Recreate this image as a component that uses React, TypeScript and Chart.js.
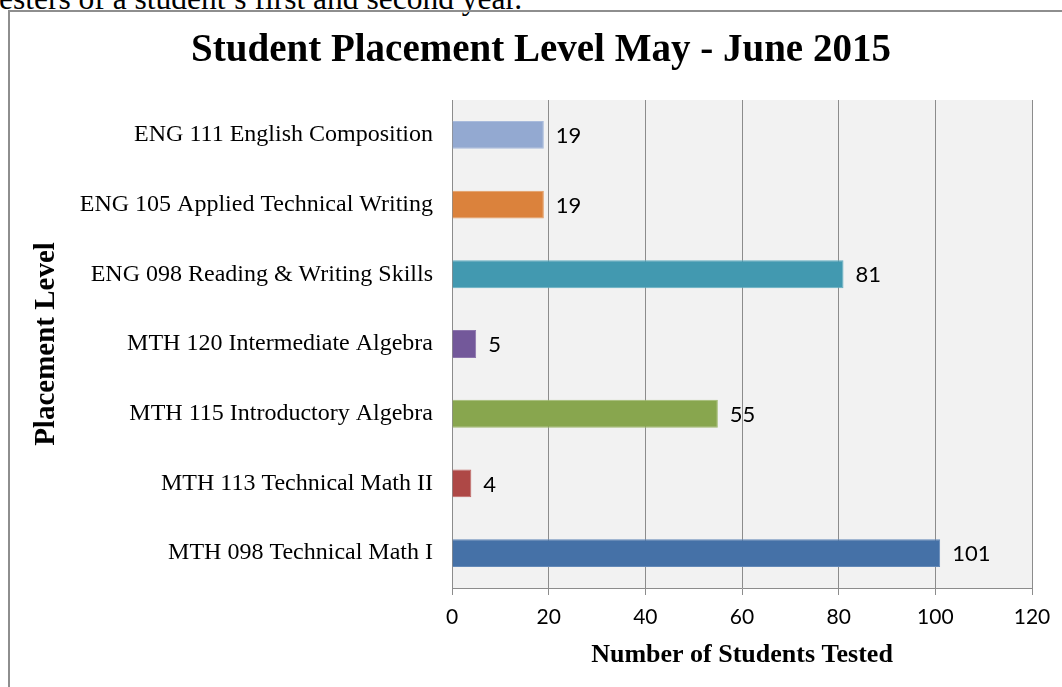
import React, { useEffect, useRef } from "react";
import { Chart, registerables } from "chart.js";

Chart.register(...registerables);

const chartTitle = "Student Placement Level May - June 2015";
const xAxisTitle = "Number of Students Tested";
const yAxisTitle = "Placement Level";
const categories = [
  "ENG 111 English Composition",
  "ENG 105 Applied Technical Writing",
  "ENG 098 Reading & Writing Skills",
  "MTH 120 Intermediate Algebra",
  "MTH 115 Introductory Algebra",
  "MTH 113 Technical Math II",
  "MTH 098 Technical Math I",
];
const studentCounts = [19, 19, 81, 5, 55, 4, 101];
const barColors = ["#93a9d1", "#db823c", "#4299b0", "#73589a", "#88a64e", "#ae4846", "#4571a7"];
const barBorders = ["#a9bbdc", "#e39a60", "#62aec2", "#8d76ad", "#a0b96f", "#c06866", "#6389b8"];
const xMin = 0;
const xMax = 120;
const xStep = 20;
const introText = "esters of a student\u2019s first and second year.";

const serif = "'Liberation Serif', 'Times New Roman', serif";
const sans = "Lato, 'Open Sans', sans-serif";

export default function App() {
  const canvasRef = useRef<HTMLCanvasElement | null>(null);

  useEffect(() => {
    const canvas = canvasRef.current;
    if (!canvas) return;

    const plotBg = {
      id: "plotBg",
      beforeDraw(chart: any) {
        const { ctx, chartArea } = chart;
        ctx.save();
        ctx.fillStyle = "#f2f2f2";
        ctx.fillRect(chartArea.left, chartArea.top, chartArea.right - chartArea.left, chartArea.bottom - chartArea.top);
        ctx.restore();
      },
    };

    const valueLabels = {
      id: "valueLabels",
      afterDatasetsDraw(chart: any) {
        const { ctx } = chart;
        const meta = chart.getDatasetMeta(0);
        ctx.save();
        ctx.font = `22px ${sans}`;
        ctx.fillStyle = "#000";
        ctx.textAlign = "left";
        ctx.textBaseline = "middle";
        meta.data.forEach((bar: any, i: number) => {
          ctx.fillText(String(studentCounts[i]), bar.x + 12, bar.y + 1);
        });
        ctx.restore();
      },
    };

    const chart = new Chart(canvas, {
      type: "bar",
      data: {
        labels: categories,
        datasets: [
          {
            data: studentCounts,
            backgroundColor: barColors,
            borderColor: barBorders,
            borderWidth: 1,
            categoryPercentage: 1,
            barPercentage: 0.4,
          },
        ],
      },
      options: {
        indexAxis: "y",
        animation: false,
        responsive: false,
        maintainAspectRatio: false,
        layout: { padding: { left: 20, right: 0, top: 0, bottom: 0 } },
        plugins: {
          legend: { display: false },
          tooltip: { enabled: false },
          title: {
            display: true,
            text: chartTitle,
            color: "#000",
            font: { family: serif, size: 39, weight: "bold" },
            padding: { top: 27.4, bottom: 25.8 },
          },
        },
        scales: {
          x: {
            min: xMin,
            max: xMax,
            ticks: {
              stepSize: xStep,
              color: "#000",
              font: { family: sans, size: 21 },
              padding: 9.5,
            },
            grid: {
              color: "#8c8c8c",
              lineWidth: 1,
              tickLength: 7,
              drawTicks: true,
            },
            border: { display: true, color: "#8c8c8c", width: 1 },
            title: {
              display: true,
              text: xAxisTitle,
              color: "#000",
              font: { family: serif, size: 26, weight: "bold" },
              padding: { top: 0, bottom: 16.4 },
            },
            afterFit(scale: any) {
              scale.height = 99;
              scale.paddingLeft = 0;
              scale.paddingRight = 30;
            },
          },
          y: {
            ticks: {
              color: "#000",
              font: { family: serif, size: 24 },
              padding: 19,
            },
            grid: { display: false, drawTicks: false },
            border: { display: true, color: "#8c8c8c", width: 1 },
            title: {
              display: true,
              text: yAxisTitle,
              color: "#000",
              font: { family: serif, size: 29, weight: "bold" },
              padding: { top: 9, bottom: 0 },
            },
            afterFit(scale: any) {
              scale.width = 432;
            },
          },
        },
      },
      plugins: [plotBg, valueLabels],
    });

    return () => chart.destroy();
  }, []);

  return (
    <div
      style={{
        position: "absolute",
        left: 0,
        top: 0,
        width: 1062,
        height: 687,
        overflow: "hidden",
        background: "#fff",
      }}
    >
      <div
        style={{
          position: "absolute",
          left: -1,
          top: -18.5,
          fontFamily: serif,
          fontSize: 31.5,
          lineHeight: "34px",
          whiteSpace: "nowrap",
          color: "#000",
        }}
      >
        {introText}
      </div>
      <div
        style={{
          position: "absolute",
          left: 8,
          top: 10,
          width: 1200,
          height: 900,
          borderLeft: "2px solid #8e8e8e",
          borderTop: "2px solid #8e8e8e",
        }}
      />
      <canvas
        ref={canvasRef}
        width={1062}
        height={687}
        style={{ position: "absolute", left: 0, top: 0, width: 1062, height: 687 }}
      />
    </div>
  );
}
